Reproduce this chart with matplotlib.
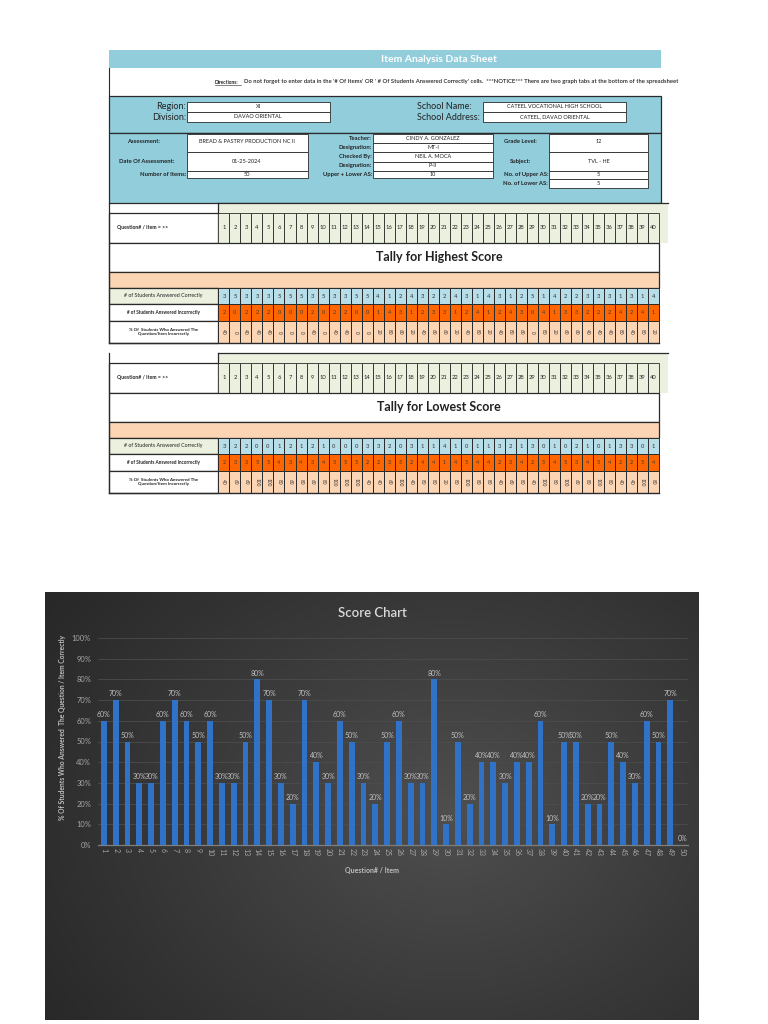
import numpy as np
import matplotlib.pyplot as plt
from matplotlib.patches import Rectangle

plt.rcParams['font.family'] = ['Lato', 'DejaVu Sans']

# header fields of the sheet
sheet_title = "Item Analysis Data Sheet"
directions_head = "Directions:"
directions_text = ("Do not forget to enter data in the '# Of Items' OR ' # Of Students Answered Correctly' cells.  "
                   "***NOTICE*** There are two graph tabs at the bottom of the spreadsheet")
region = "XI"
division = "DAVAO ORIENTAL"
school_name = "CATEEL VOCATIONAL HIGH SCHOOL"
school_address = "CATEEL, DAVAO ORIENTAL"
assessment = "BREAD & PASTRY PRODUCTION NC II"
date_of_assessment = "01-25-2024"
number_of_items = "50"
teacher = "CINDY A. GONZALEZ"
teacher_designation = "MT-I"
checked_by = "NEIL A. MOCA"
checker_designation = "P-II"
upper_lower_as = "10"
grade_level = "12"
subject = "TVL - HE"
no_upper_as = "5"
no_lower_as = "5"

# tally tables
questions = list(range(1, 41))
high_correct = [3,5,3,3,3,5,5,5,3,5,3,3,5,5,4,1,2,4,3,2,2,4,3,1,4,3,1,2,5,1,4,2,2,3,3,3,1,3,1,4]
high_incorrect = [2,0,2,2,2,0,0,0,2,0,2,2,0,0,1,4,3,1,2,3,3,1,2,4,1,2,4,3,0,4,1,3,3,2,2,2,4,2,4,1]
high_pct = [40,0,40,40,40,0,0,0,40,0,40,40,0,0,20,80,60,20,40,60,60,20,40,80,20,40,80,60,0,80,20,60,60,40,40,40,80,40,80,20]
low_correct = [3,2,2,0,0,1,2,1,2,1,0,0,0,3,3,2,0,3,1,1,4,1,0,1,1,3,2,1,3,0,1,0,2,1,0,1,3,3,0,1]
low_incorrect = [2,3,3,5,5,4,3,4,3,4,5,5,5,2,2,3,5,2,4,4,1,4,5,4,4,2,3,4,2,5,4,5,3,4,5,4,2,2,5,4]
low_pct = [40,60,60,100,100,80,60,80,60,80,100,100,100,40,40,60,100,40,80,80,20,80,100,80,80,40,60,80,40,100,80,100,60,80,100,80,40,40,100,80]

# score chart
chart_items = [str(i) for i in range(1, 51)]
chart_pct = [60,70,50,30,30,60,70,60,50,60,
             30,30,50,80,70,30,20,70,40,30,
             60,50,30,20,50,60,30,30,80,10,
             50,20,40,40,30,40,40,60,10,50,
             50,20,20,50,40,30,60,50,70,0]

BLUE_HDR = '#92CDDC'
GREEN = '#EBF1DE'
CELL_BLUE = '#B7DEE8'
ORANGE = '#FF6600'
PEACH = '#FCD5B4'
LINE = '#2a2a2a'

fig = plt.figure(figsize=(7.68, 10.24), dpi=100)
fig.patch.set_facecolor('white')

sh = fig.add_axes([0, 0, 1, 1])
sh.set_xlim(0, 768)
sh.set_ylim(1024, 0)
sh.axis('off')


def box(x0, y0, x1, y1, fc='white', ec=LINE, lw=0.6):
    sh.add_patch(Rectangle((x0, y0), x1 - x0, y1 - y0, facecolor=fc, edgecolor=ec, linewidth=lw))


def txt(x, y, s, size=4.2, ha='center', weight='normal', color='#222222', **kw):
    return sh.text(x, y, s, fontsize=size, ha=ha, va='center', fontweight=weight, color=color, **kw)


# title bar + directions
box(109, 50, 661, 67.5, fc=BLUE_HDR, ec='none')
txt(439, 59, sheet_title, size=7.5, weight='bold', color='white')
sh.plot([109, 109], [67.5, 96], color=LINE, lw=0.8)
txt(215, 82, directions_head, size=3.5, ha='left', weight='bold')
sh.plot([215, 241], [84.8, 84.8], color='#222222', lw=0.4)
clip = Rectangle((0, 0), 669, 1024, transform=sh.transData)
t = txt(244, 82, directions_text, size=4.25, ha='left', weight='semibold')
t.set_clip_path(clip)

# region block
box(109, 96, 661, 133, fc=BLUE_HDR, ec=LINE, lw=0.9)
txt(186, 106.5, "Region:", size=6.5, ha='right')
txt(186, 117, "Division:", size=6.5, ha='right')
box(187, 101.7, 329.5, 111.7)
box(187, 111.7, 329.5, 122.3)
txt(258, 106.7, region, size=4)
txt(258, 117, division, size=4)
txt(417, 106.5, "School Name:", size=6.5, ha='left')
txt(417, 117, "School Address:", size=6.5, ha='left')
box(482.5, 101.7, 626.4, 111.7)
box(482.5, 111.7, 626.4, 122.3)
txt(554.5, 106.7, school_name, size=4)
txt(554.5, 117, school_address, size=4)

# assessment block
box(109, 133, 661, 203, fc=BLUE_HDR, ec=LINE, lw=0.9)
txt(143.7, 141.7, "Assessment:", weight='bold')
txt(147, 161.7, "Date Of Assessment:", weight='bold')
txt(186, 174.5, "Number of Items:", ha='right', weight='bold')
box(187, 134.3, 307.6, 152.3)
box(187, 152.3, 307.6, 171)
box(187, 171, 307.6, 178.3)
txt(247, 141.7, assessment, size=4)
txt(247, 161.7, date_of_assessment, size=4)
txt(247, 174, number_of_items, size=4)

mid_rows = [134.3, 143.3, 152.3, 161.7, 171, 178.3]
mid_labels = ["Teacher:", "Designation:", "Checked By:", "Designation:", "Upper + Lower AS:"]
mid_values = [teacher, teacher_designation, checked_by, checker_designation, upper_lower_as]
for k in range(5):
    ya, yb = mid_rows[k], mid_rows[k + 1]
    box(372.5, ya, 493.4, yb)
    txt(372, (ya + yb) / 2 - 0.5, mid_labels[k], ha='right', weight='bold')
    txt(433, (ya + yb) / 2 - 0.5, mid_values[k], size=4)

txt(520.8, 141.7, "Grade Level:", weight='bold')
txt(520.8, 161.7, "Subject:", weight='bold')
txt(548, 174.7, "No. of Upper AS:", ha='right', weight='bold')
txt(548, 183.5, "No. of Lower AS:", ha='right', weight='bold')
box(548.8, 134.3, 648.3, 152.3)
box(548.8, 152.3, 648.3, 171)
box(548.8, 171, 648.3, 179)
box(548.8, 179, 648.3, 188.3)
txt(598.5, 141.7, grade_level, size=4)
txt(598.5, 161.7, subject, size=4)
txt(598.5, 174.5, no_upper_as, size=4)
txt(598.5, 183.5, no_lower_as, size=4)


def draw_tally(top, title, correct, incorrect, pct):
    xl, xm, xr = 109, 218.4, 659
    cw = (xr - xm) / len(questions)
    ys = [top, top + 9.5, top + 39.5, top + 68.5, top + 85, top + 101, top + 118, top + 140]
    sh.plot([xl, xl], [ys[0], ys[-1]], color=LINE, lw=0.9)
    box(xm, ys[0], 668, ys[1], fc=GREEN, ec='none')
    sh.plot([xm, 668], [ys[0], ys[0]], color=LINE, lw=0.9)
    sh.plot([xm, xm], [ys[0], ys[1]], color=LINE, lw=0.9)
    # question numbers
    box(xl, ys[1], xm, ys[2], fc='white', lw=0.9)
    box(xm, ys[1], 668, ys[2], fc=GREEN, ec='none')
    txt(117, (ys[1] + ys[2]) / 2, "Question# / Item = >>", size=3.7, ha='left', weight='bold')
    for i, q in enumerate(questions):
        box(xm + i * cw, ys[1], xm + (i + 1) * cw, ys[2], fc=GREEN)
        txt(xm + (i + 0.5) * cw, (ys[1] + ys[2]) / 2, str(q), size=4.2)
    # title and band
    box(xl, ys[2], xr, ys[3], fc='white', lw=0.9)
    txt(439, (ys[2] + ys[3]) / 2, title, size=9, weight='bold')
    box(xl, ys[3], xr, ys[4], fc=PEACH, lw=0.9)
    # rows
    box(xl, ys[4], xm, ys[5], fc=GREEN, lw=0.9)
    txt((xl + xm) / 2, (ys[4] + ys[5]) / 2, "# of Students Answered Correctly", size=3.8)
    box(xl, ys[5], xm, ys[6], fc='white', lw=0.9)
    txt((xl + xm) / 2, (ys[5] + ys[6]) / 2, "# of Students Answered Incorrectly", size=3.3, weight='bold')
    box(xl, ys[6], xm, ys[7], fc='white', lw=0.9)
    txt((xl + xm) / 2, (ys[6] + ys[7]) / 2, "% Of  Students Who Answered The\nQuestion/Item Incorrectly",
        size=3.2, weight='bold', linespacing=1.2)
    for i in range(len(questions)):
        x0, x1 = xm + i * cw, xm + (i + 1) * cw
        xc = (x0 + x1) / 2
        box(x0, ys[4], x1, ys[5], fc=CELL_BLUE, lw=0.7)
        txt(xc, (ys[4] + ys[5]) / 2, str(correct[i]), size=4.2, color='#333333')
        box(x0, ys[5], x1, ys[6], fc=ORANGE, lw=0.7)
        txt(xc, (ys[5] + ys[6]) / 2, str(incorrect[i]), size=4.0, color='#3a3a3a')
        box(x0, ys[6], x1, ys[7], fc=PEACH, lw=0.7)
        txt(xc, (ys[6] + ys[7]) / 2, str(pct[i]), size=3.4, color='#333333', rotation=-90)
    sh.plot([xl, xr], [ys[7], ys[7]], color=LINE, lw=1.0)


draw_tally(203, "Tally for Highest Score", high_correct, high_incorrect, high_pct)
draw_tally(353, "Tally for Lowest Score", low_correct, low_incorrect, low_pct)

# chart background with soft radial shading
W, H = 768, 1024
cb = fig.add_axes([45 / W, (H - 1020) / H, 654 / W, 428 / H])
yy, xx = np.mgrid[0:1:200j, 0:1:300j]
d = np.sqrt(((xx - 0.62) / 0.8) ** 2 + ((yy - 0.52) / 0.95) ** 2)
shade = np.clip(1 - d, 0, 1) ** 1.1
dark = np.array([0.15, 0.15, 0.15])
light = np.array([0.31, 0.31, 0.31])
img = dark + (light - dark) * shade[..., None]
cb.imshow(img, extent=[0, 1, 0, 1], aspect='auto', origin='upper')
cb.set_xlim(0, 1)
cb.set_ylim(0, 1)
cb.axis('off')

ax = fig.add_axes([98 / W, (H - 845) / H, 590 / W, 207 / H])
ax.patch.set_alpha(0)
xpos = np.arange(len(chart_items))
vals = np.array(chart_pct) / 100
ax.bar(xpos, vals, width=0.5, color='#3072c8', zorder=3)
for x, v in zip(xpos, chart_pct):
    ax.annotate(f"{v}%", (x, v / 100), xytext=(0, 2), textcoords='offset points',
                ha='center', va='bottom', fontsize=5.0, color='#bfbfbf', zorder=4)

ax.set_xlim(-0.5, len(chart_items) - 0.5)
ax.set_ylim(0, 1)
ax.set_yticks(np.arange(0, 1.01, 0.1))
ax.set_yticklabels([f"{int(round(v * 100))}%" for v in np.arange(0, 1.01, 0.1)])
ax.set_xticks(xpos)
ax.set_xticklabels(chart_items, rotation=-90)
ax.tick_params(axis='y', length=0, pad=5, labelsize=5.4, labelcolor='#a6a6a6')
ax.tick_params(axis='x', length=0, pad=2.5, labelsize=5.0, labelcolor='#a6a6a6')
ax.yaxis.grid(True, color='#4c4c4c', lw=0.6, zorder=0)
ax.set_axisbelow(True)
for s in ['top', 'right', 'left']:
    ax.spines[s].set_visible(False)
ax.spines['bottom'].set_color('#7f7f7f')
ax.spines['bottom'].set_linewidth(0.9)

fig.text(372 / W, 1 - 613 / H, "Score Chart", fontsize=9.5, color='#d9d9d9',
         ha='center', va='center', fontweight='semibold')
fig.text(372 / W, 1 - 870 / H, "Question# / Item", fontsize=5, color='#bfbfbf',
         ha='center', va='center', fontweight='bold')
fig.text(62 / W, 1 - 727 / H, "% Of Students Who Answered  The Question / Item Correctly",
         fontsize=4.9, color='#bfbfbf', ha='center', va='center', rotation=90, fontweight='bold')

fig.savefig('out.png', dpi=100, facecolor='white')
